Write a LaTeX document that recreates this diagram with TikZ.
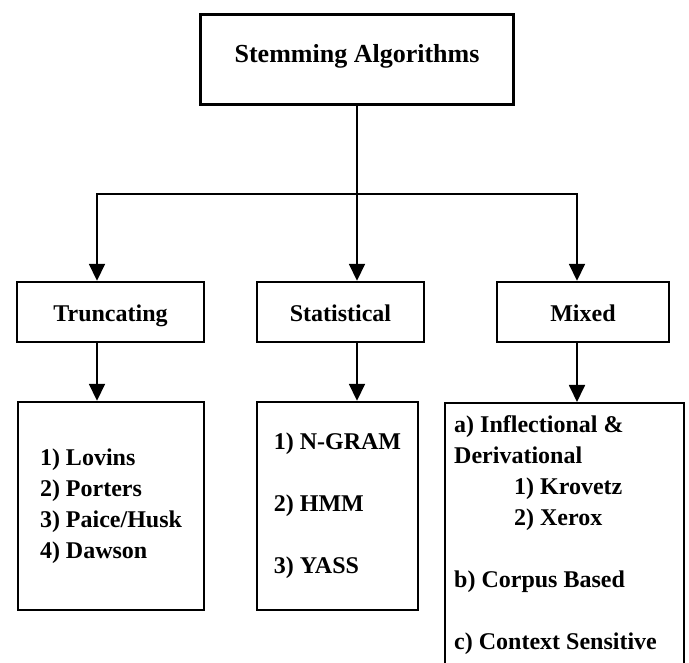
\documentclass[tikz,border=0pt]{standalone}
\usepackage{fontspec}
\setmainfont{Liberation Serif}
\usetikzlibrary{arrows.meta,positioning}

\begin{document}
\begin{tikzpicture}[
    x=1pt, y=-1pt,
    box/.style={draw, line width=2.4pt, inner sep=0pt},
    catbox/.style={box, minimum height=60pt, text height=20pt, text depth=0pt},
    listbox/.style={box, align=left},
    link/.style={line width=1.8pt},
    arrow/.style={link, -{Triangle[length=17pt,width=16pt]}},
    every node/.style={font=\bfseries\fontsize{24}{31}\selectfont}
]
\useasboundingbox (0,0) rectangle (689,663);
% boxes
\node[box, minimum width=313pt, minimum height=90pt, text height=12pt, text depth=5pt,
      font=\bfseries\fontsize{26}{31}\selectfont] (root) at (357,59.5) {Stemming Algorithms};
\node[catbox, minimum width=187pt] (trunc) at (110.5,312) {Truncating};
\node[catbox, minimum width=167pt] (stat) at (340.5,312) {Statistical};
\node[catbox, minimum width=172pt] (mixed) at (583,312) {Mixed};
\node[listbox, minimum width=186pt, minimum height=208pt] (trunclist) at (111,506)
    {1) Lovins\\2) Porters\\3) Paice/Husk\\4) Dawson};
\node[listbox, minimum width=161pt, minimum height=208pt] (statlist) at (337.5,506)
    {1) N-GRAM\\[31pt]2) HMM\\[31pt]3) YASS};
\node[listbox, align=flush left, anchor=north west, inner xsep=9pt, inner ysep=12pt, text width=221pt] (mixlist) at (444,402)
    {a) Inflectional \&\\Derivational\\\hspace*{60pt}1) Krovetz\\\hspace*{60pt}2) Xerox\\[31pt]%
     b) Corpus Based\\[31pt]c) Context Sensitive\rule[-30pt]{0pt}{30pt}};
% connectors
\coordinate (split) at ([yshift=-88.5pt]root.south);
\draw[link] (root.south) -- (split);
\draw[arrow] (split) -| ([xshift=-13.5pt]trunc.north);
\draw[arrow] (split) -- (split |- stat.north);
\draw[arrow] (split) -| ([xshift=-6pt]mixed.north);
\draw[arrow] ([xshift=-13.5pt]trunc.south) -- ([xshift=-13.5pt]trunc.south |- trunclist.north);
\draw[arrow] (split |- stat.south) -- (split |- statlist.north);
\draw[arrow] ([xshift=-6pt]mixed.south) -- ([xshift=-6pt]mixed.south |- mixlist.north);
\end{tikzpicture}
\end{document}
